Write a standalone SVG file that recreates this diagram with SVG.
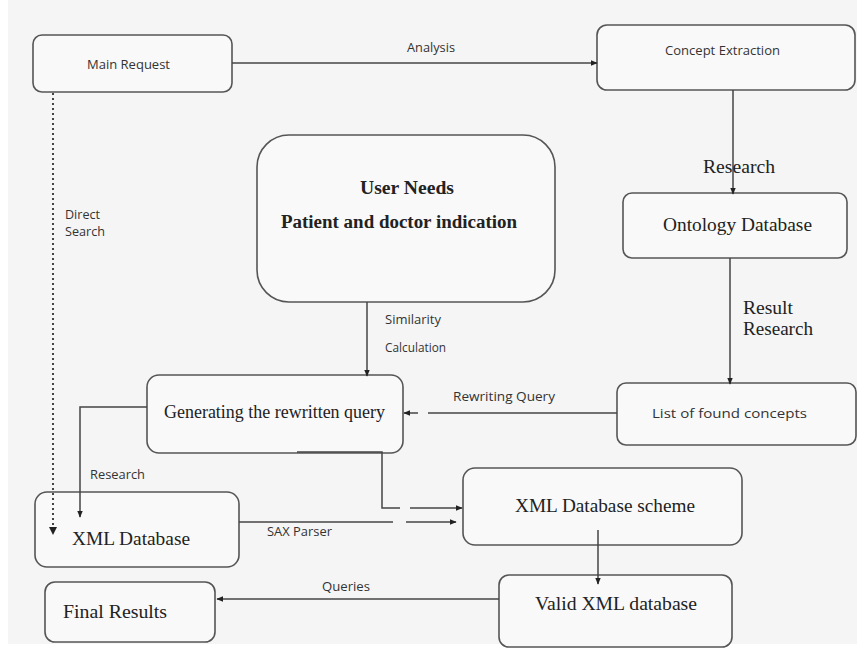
<svg xmlns="http://www.w3.org/2000/svg" width="857" height="651" viewBox="0 0 857 651">
  <defs>
    <marker id="arrow" viewBox="0 0 10 10" refX="9" refY="5" markerWidth="7" markerHeight="7" orient="auto" markerUnits="userSpaceOnUse">
      <path d="M0,1 L10,5 L0,9 z" fill="#222"/>
    </marker>
    <style>
      .box { fill: #f9f9f9; stroke: #555; stroke-width: 1.6; }
      .line { fill: none; stroke: #444; stroke-width: 1.5; }
      .dotted { fill: none; stroke: #444; stroke-width: 2; stroke-dasharray: 2 3; }
      .sans { font-family: "Open Sans", "Liberation Sans", sans-serif; font-size: 12px; fill: #333; }
      .serif { font-family: "Liberation Serif", serif; font-size: 18px; fill: #222; }
    </style>
  </defs>

  <!-- page background -->
  <rect x="0" y="0" width="857" height="651" fill="#ffffff"/>
  <rect x="8" y="0" width="849" height="644" fill="#f5f5f5"/>

  <!-- nodes -->
  <g id="main-request">
    <rect class="box" x="33" y="35" width="199" height="57" rx="9"/>
    <text class="sans" x="87" y="69" textLength="83" lengthAdjust="spacingAndGlyphs">Main Request</text>
  </g>

  <g id="concept-extraction">
    <rect class="box" x="597" y="25" width="258" height="65" rx="10"/>
    <text class="sans" x="665" y="55" textLength="115" lengthAdjust="spacingAndGlyphs">Concept Extraction</text>
  </g>

  <g id="user-needs">
    <rect class="box" x="257" y="135" width="298" height="167" rx="32"/>
    <text class="serif" x="360" y="194" font-weight="bold" textLength="94" lengthAdjust="spacingAndGlyphs">User Needs</text>
    <text class="serif" x="281" y="228" font-weight="bold" textLength="236" lengthAdjust="spacingAndGlyphs">Patient and doctor indication</text>
  </g>

  <g id="ontology-database">
    <rect class="box" x="623" y="193" width="224" height="65" rx="9"/>
    <text class="serif" x="663" y="231" textLength="149" lengthAdjust="spacingAndGlyphs">Ontology Database</text>
  </g>

  <g id="list-of-found-concepts">
    <rect class="box" x="617" y="383" width="239" height="62" rx="9"/>
    <text class="sans" x="652" y="418" font-size="13" textLength="155" lengthAdjust="spacingAndGlyphs">List of found concepts</text>
  </g>

  <g id="generating-rewritten-query">
    <rect class="box" x="147" y="375" width="256" height="78" rx="12"/>
    <text class="serif" x="164" y="418" textLength="221" lengthAdjust="spacingAndGlyphs">Generating the rewritten query</text>
  </g>

  <g id="xml-database">
    <rect class="box" x="35" y="492" width="204" height="75" rx="12"/>
    <text class="serif" x="72" y="545" font-size="19" textLength="118" lengthAdjust="spacingAndGlyphs">XML Database</text>
  </g>

  <g id="xml-database-scheme">
    <rect class="box" x="463" y="468" width="279" height="77" rx="12"/>
    <text class="serif" x="515" y="512" font-size="19" textLength="180" lengthAdjust="spacingAndGlyphs">XML Database scheme</text>
  </g>

  <g id="valid-xml-database">
    <rect class="box" x="499" y="575" width="233" height="72" rx="10"/>
    <text class="serif" x="535" y="610" font-size="19" textLength="162" lengthAdjust="spacingAndGlyphs">Valid XML database</text>
  </g>

  <g id="final-results">
    <rect class="box" x="45" y="582" width="170" height="60" rx="10"/>
    <text class="serif" x="63" y="618" font-size="19" textLength="104" lengthAdjust="spacingAndGlyphs">Final Results</text>
  </g>

  <!-- connectors -->
  <g id="connectors">
    <!-- Analysis -->
    <line class="line" x1="232" y1="63" x2="597" y2="63" marker-end="url(#arrow)"/>
    <text class="sans" x="407" y="52" textLength="48" lengthAdjust="spacingAndGlyphs">Analysis</text>

    <!-- Research: Concept Extraction to Ontology -->
    <line class="line" x1="733" y1="90" x2="733" y2="194" marker-end="url(#arrow)"/>
    <text class="serif" x="703" y="173" textLength="72" lengthAdjust="spacingAndGlyphs">Research</text>

    <!-- Result Research: Ontology to List -->
    <line class="line" x1="730" y1="258" x2="730" y2="384" marker-end="url(#arrow)"/>
    <text class="serif" x="743" y="314" textLength="50" lengthAdjust="spacingAndGlyphs">Result</text>
    <text class="serif" x="743" y="335" textLength="70" lengthAdjust="spacingAndGlyphs">Research</text>

    <!-- Rewriting Query -->
    <line class="line" x1="617" y1="413" x2="428" y2="413"/>
    <line class="line" x1="418" y1="413" x2="404" y2="413" marker-end="url(#arrow)"/>
    <text class="sans" x="453" y="401" textLength="102" lengthAdjust="spacingAndGlyphs">Rewriting Query</text>

    <!-- Similarity Calculation -->
    <line class="line" x1="367" y1="302" x2="367" y2="376" marker-end="url(#arrow)"/>
    <text class="sans" x="385" y="324" textLength="56" lengthAdjust="spacingAndGlyphs">Similarity</text>
    <text class="sans" x="385" y="352" textLength="61" lengthAdjust="spacingAndGlyphs">Calculation</text>

    <!-- Direct Search (dotted) -->
    <line class="dotted" x1="53" y1="93" x2="53" y2="528"/>
    <path d="M49,527 L57,527 L53,535 z" fill="#222"/>
    <text class="sans" x="65" y="219" textLength="35" lengthAdjust="spacingAndGlyphs">Direct</text>
    <text class="sans" x="65" y="236" textLength="40" lengthAdjust="spacingAndGlyphs">Search</text>

    <!-- Research: Generating to XML Database -->
    <polyline class="line" points="147,407 80,407 80,517" marker-end="url(#arrow)"/>
    <text class="sans" x="90" y="479" textLength="55" lengthAdjust="spacingAndGlyphs">Research</text>

    <!-- Generating to XML Database scheme -->
    <polyline class="line" points="297,452 382,452 382,508 400,508"/>
    <line class="line" x1="410" y1="508" x2="462" y2="508" marker-end="url(#arrow)"/>

    <!-- SAX Parser -->
    <line class="line" x1="239" y1="522" x2="393" y2="522"/>
    <line class="line" x1="406" y1="522" x2="456" y2="522" marker-end="url(#arrow)"/>
    <text class="sans" x="267" y="536" textLength="65" lengthAdjust="spacingAndGlyphs">SAX Parser</text>

    <!-- Scheme to Valid XML database -->
    <line class="line" x1="598" y1="530" x2="598" y2="584" marker-end="url(#arrow)"/>

    <!-- Queries -->
    <line class="line" x1="499" y1="599" x2="217" y2="599" marker-end="url(#arrow)"/>
    <text class="sans" x="322" y="591" textLength="48" lengthAdjust="spacingAndGlyphs">Queries</text>
  </g>
</svg>
